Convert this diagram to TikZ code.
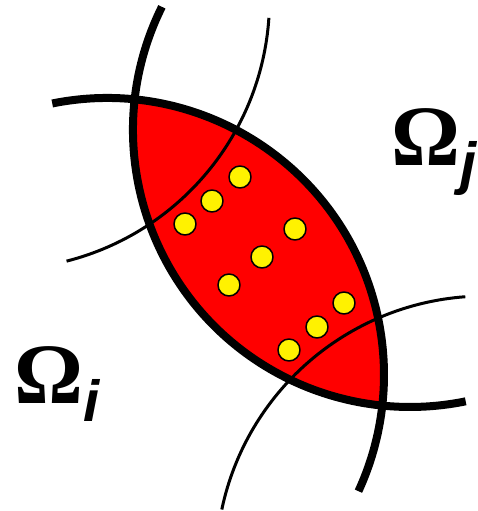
\documentclass[tikz,border=0pt]{standalone}
\usepackage{fontspec}
\setmainfont{Liberation Serif}
\newfontfamily\labelsans{Liberation Sans}
\begin{document}
\begin{tikzpicture}[x=1pt,y=1pt,line cap=butt,line join=round]

\useasboundingbox (0,0) rectangle (477,511);

% --- centres of the two subdomains and of two neighbours ---
\coordinate (Ci) at (410,381);
\coordinate (Cj) at (107,136);
\coordinate (Na) at (0,511);
\coordinate (Nb) at (485,-54);

\def\rD{277}
\def\rA{269.5}
\def\rB{269}

% --- overlap of the two subdomains ---
\begin{scope}
  \clip (Ci) circle (\rD);
  \fill[red] (Cj) circle (\rD);
\end{scope}

% --- thin neighbour boundaries ---
\draw[line width=3pt] (Na) ++(-3.8:\rA) arc[start angle=-3.8, end angle=-75.7, radius=\rA];
\draw[line width=3pt] (Nb) ++(94.2:\rB) arc[start angle=94.2, end angle=168.1, radius=\rB];

% --- thick subdomain boundaries ---
\draw[line width=8pt] (Ci) ++(153.6:\rD) arc[start angle=153.6, end angle=281.6, radius=\rD];
\draw[line width=8pt] (Cj) ++(101.4:\rD) arc[start angle=101.4, end angle=-24.8, radius=\rD];

% --- points in the overlap ---
\foreach \px/\py in {240/334, 212/310, 185/287,
                     295/282, 262/254, 229/226,
                     344/208, 317/184, 289/161}
  \filldraw[fill=yellow, draw=black, line width=1.5pt] (\px,\py) circle (11);

% labels of the subdomains
\node[anchor=base west, inner sep=0] (Li) at (14,107)
  {\fontsize{86}{86}\selectfont\bfseries Ω\raisebox{-18pt}{\fontsize{58}{58}\selectfont\labelsans\bfseries\itshape i}};
\node[anchor=base west, inner sep=0] (Lj) at (391,345)
  {\fontsize{86}{86}\selectfont\bfseries Ω\raisebox{-18pt}{\fontsize{58}{58}\selectfont\labelsans\bfseries\itshape j}};
\end{tikzpicture}
\end{document}
